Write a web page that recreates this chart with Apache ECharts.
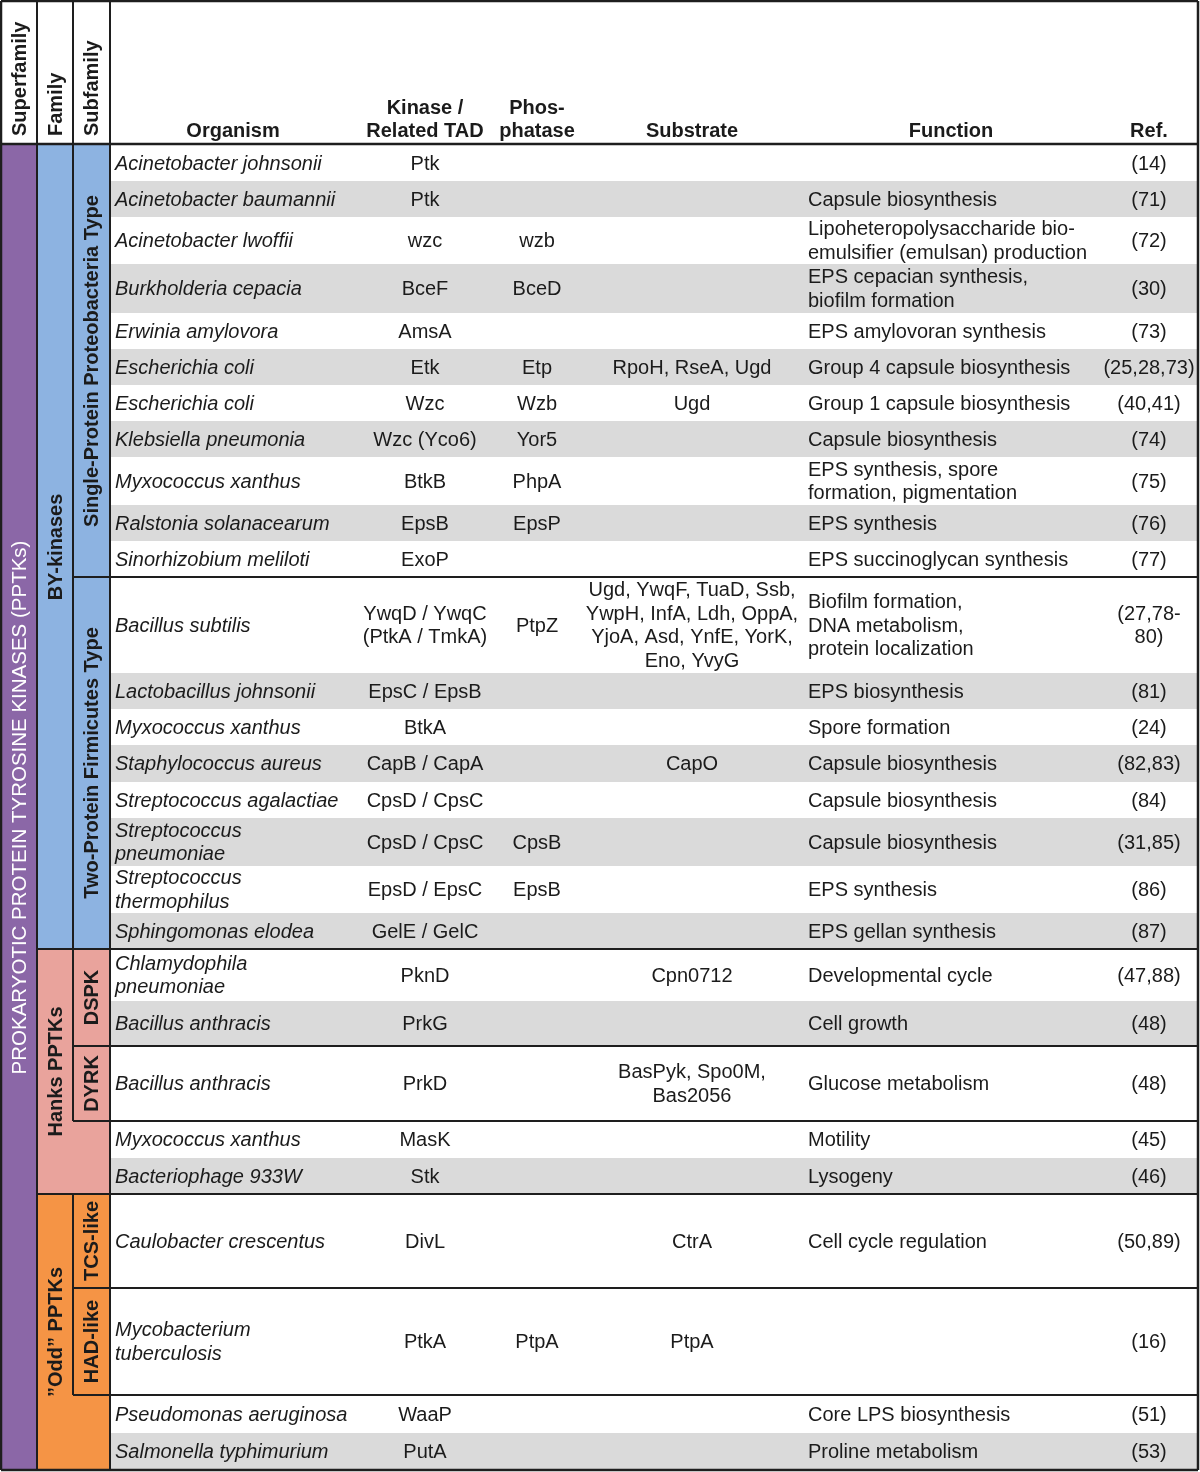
<!DOCTYPE html>
<html>
<head>
<meta charset="utf-8">
<script src="https://cdn.jsdelivr.net/npm/echarts@6/dist/echarts.min.js"></script>
<style>
html,body{margin:0;padding:0;background:#fff;}
#chart{width:1200px;height:1472px;}
</style>
</head>
<body>
<div id="chart"></div>
<script>
// ---------------- DATA ----------------
const superfamilyLabel = 'PROKARYOTIC PROTEIN TYROSINE KINASES (PPTKs)';
const leftHeaders = ['Superfamily', 'Family', 'Subfamily'];
const columnHeaders = ['Organism', 'Kinase /\nRelated TAD', 'Phos-\nphatase', 'Substrate', 'Function', 'Ref.'];

const organisms = [
  'Acinetobacter johnsonii', 'Acinetobacter baumannii', 'Acinetobacter lwoffii', 'Burkholderia cepacia',
  'Erwinia amylovora', 'Escherichia coli', 'Escherichia coli', 'Klebsiella pneumonia',
  'Myxococcus xanthus', 'Ralstonia solanacearum', 'Sinorhizobium meliloti',
  'Bacillus subtilis', 'Lactobacillus johnsonii', 'Myxococcus xanthus', 'Staphylococcus aureus',
  'Streptococcus agalactiae', 'Streptococcus\npneumoniae', 'Streptococcus\nthermophilus', 'Sphingomonas elodea',
  'Chlamydophila\npneumoniae', 'Bacillus anthracis', 'Bacillus anthracis', 'Myxococcus xanthus',
  'Bacteriophage 933W', 'Caulobacter crescentus', 'Mycobacterium\ntuberculosis',
  'Pseudomonas aeruginosa', 'Salmonella typhimurium'
];
const kinases = [
  'Ptk', 'Ptk', 'wzc', 'BceF', 'AmsA', 'Etk', 'Wzc', 'Wzc (Yco6)', 'BtkB', 'EpsB', 'ExoP',
  'YwqD / YwqC\n(PtkA / TmkA)', 'EpsC / EpsB', 'BtkA', 'CapB / CapA', 'CpsD / CpsC', 'CpsD / CpsC',
  'EpsD / EpsC', 'GelE / GelC', 'PknD', 'PrkG', 'PrkD', 'MasK', 'Stk', 'DivL', 'PtkA', 'WaaP', 'PutA'
];
const phosphatases = [
  '', '', 'wzb', 'BceD', '', 'Etp', 'Wzb', 'Yor5', 'PhpA', 'EpsP', '',
  'PtpZ', '', '', '', '', 'CpsB', 'EpsB', '', '', '', '', '', '', '', 'PtpA', '', ''
];
const substrates = [
  '', '', '', '', '', 'RpoH, RseA, Ugd', 'Ugd', '', '', '', '',
  'Ugd, YwqF, TuaD, Ssb,\nYwpH, InfA, Ldh, OppA,\nYjoA, Asd, YnfE, YorK,\nEno, YvyG',
  '', '', 'CapO', '', '', '', '', 'Cpn0712', '', 'BasPyk, Spo0M,\nBas2056', '', '', 'CtrA', 'PtpA', '', ''
];
const functions = [
  '', 'Capsule biosynthesis', 'Lipoheteropolysaccharide bio-\nemulsifier (emulsan) production',
  'EPS cepacian synthesis,\nbiofilm formation', 'EPS amylovoran synthesis', 'Group 4 capsule biosynthesis',
  'Group 1 capsule biosynthesis', 'Capsule biosynthesis', 'EPS synthesis, spore\nformation, pigmentation',
  'EPS synthesis', 'EPS succinoglycan synthesis',
  'Biofilm formation,\nDNA metabolism,\nprotein localization', 'EPS biosynthesis', 'Spore formation',
  'Capsule biosynthesis', 'Capsule biosynthesis', 'Capsule biosynthesis', 'EPS synthesis', 'EPS gellan synthesis',
  'Developmental cycle', 'Cell growth', 'Glucose metabolism', 'Motility', 'Lysogeny',
  'Cell cycle regulation', '', 'Core LPS biosynthesis', 'Proline metabolism'
];
const refs = [
  '(14)', '(71)', '(72)', '(30)', '(73)', '(25,28,73)', '(40,41)', '(74)', '(75)', '(76)', '(77)',
  '(27,78-\n80)', '(81)', '(24)', '(82,83)', '(84)', '(31,85)', '(86)', '(87)',
  '(47,88)', '(48)', '(48)', '(45)', '(46)', '(50,89)', '(16)', '(51)', '(53)'
];

const families = ['BY-kinases', 'Hanks PPTKs', '\u201DOdd\u201D PPTKs'];
const familyFirstRow = [0, 19, 24];
const familyLastRow = [18, 23, 27];

const subfamilies = ['Single-Protein Proteobacteria Type', 'Two-Protein Firmicutes Type', 'DSPK', 'DYRK', 'TCS-like', 'HAD-like'];
const subfamilyFirstRow = [0, 11, 19, 21, 24, 25];
const subfamilyLastRow = [10, 18, 20, 21, 24, 25];
const subfamilyOf = [0, 0, 1, 1, 2, 2];

// ---------------- LAYOUT / STYLE ----------------
const rowHeights = [36,36,47,49,36,36,36,36,48,36,36, 96,36,36,37,36,48,47,36, 52,45,75,37,36, 94,107,38,37];
const TOP = 1, LEFT = 1, RIGHT = 1198;
const HEADER_BOTTOM = 144;
const COL = { supL: 1, famL: 37, subL: 73, bodyL: 110 };
const TXT = { org: 115, kin: 425, pho: 537, subs: 692, fn: 808, ref: 1149 };
const HDR = [233, 425, 537, 692, 951, 1149];
const TEXT_DY = 1;
const rowTop = [HEADER_BOTTOM + 1];
rowHeights.forEach(h => rowTop.push(rowTop[rowTop.length - 1] + h));
const BOTTOM = rowTop[rowTop.length - 1];

const FONT_FAMILY = '"Liberation Sans", Arial, Helvetica, sans-serif';
const F_BODY = '20px ' + FONT_FAMILY;
const F_ITALIC = 'italic 20px ' + FONT_FAMILY;
const F_BOLD = 'bold 20px ' + FONT_FAMILY;
const INK = '#1b1b1b';
const LINE = '#1e1e1e';
const SHADE = '#DADADA';
const PURPLE = '#8B67A7';
const FAMILY_COLORS = ['#8DB3E1', '#E9A39C', '#F59445'];
const LH = 23.6;

// group starts for zebra shading (restarts after each structural boundary)
const groupStarts = new Set([0]);
familyFirstRow.forEach(r => groupStarts.add(r));
subfamilyFirstRow.forEach(r => groupStarts.add(r));
subfamilyLastRow.forEach(r => groupStarts.add(r + 1));
function shadeOf(i) {
  let s = i;
  while (!groupStarts.has(s)) s--;
  return (i - s) % 2 === 1;
}

function text(api, x, y, s, font, align, opts) {
  const p = api.coord([x, y]);
  return Object.assign({
    type: 'text', x: p[0], y: p[1],
    style: { text: s, font: font, fill: INK, align: align, verticalAlign: 'middle', lineHeight: LH }
  }, opts || {});
}
function rect(api, x0, y0, x1, y1, fill) {
  const a = api.coord([x0, y0]), b = api.coord([x1, y1]);
  return { type: 'rect', shape: { x: a[0], y: a[1], width: b[0] - a[0], height: b[1] - a[1] }, style: { fill: fill } };
}
function line(api, x0, y0, x1, y1, w) {
  const a = api.coord([x0, y0]), b = api.coord([x1, y1]);
  return { type: 'line', shape: { x1: a[0], y1: a[1], x2: b[0], y2: b[1] }, style: { stroke: LINE, lineWidth: w || 2 } };
}

// ---------------- RENDERERS ----------------
function renderRow(params, api) {
  const i = api.value(0);
  const y0 = rowTop[i], y1 = rowTop[i + 1], ym = (y0 + y1) / 2 + TEXT_DY;
  return {
    type: 'group',
    children: [
      rect(api, COL.bodyL, y0, RIGHT, y1, shadeOf(i) ? SHADE : '#ffffff'),
      text(api, TXT.org, ym, organisms[i], F_ITALIC, 'left'),
      text(api, TXT.kin, ym, kinases[i], F_BODY, 'center'),
      text(api, TXT.pho, ym, phosphatases[i], F_BODY, 'center'),
      text(api, TXT.subs, ym, substrates[i], F_BODY, 'center'),
      text(api, TXT.fn, ym, functions[i], F_BODY, 'left'),
      text(api, TXT.ref, ym, refs[i], F_BODY, 'center')
    ]
  };
}

function renderFamily(params, api) {
  const f = api.value(0);
  const y0 = rowTop[familyFirstRow[f]], y1 = rowTop[familyLastRow[f] + 1];
  return {
    type: 'group',
    children: [
      rect(api, COL.famL, y0, COL.bodyL, y1, FAMILY_COLORS[f]),
      text(api, (COL.famL + COL.subL) / 2 + 1, (y0 + y1) / 2, families[f], F_BOLD, 'center', { rotation: Math.PI / 2 })
    ]
  };
}

function renderSubfamily(params, api) {
  const s = api.value(0);
  const y0 = rowTop[subfamilyFirstRow[s]], y1 = rowTop[subfamilyLastRow[s] + 1];
  return {
    type: 'group',
    children: [
      rect(api, COL.subL, y0, COL.bodyL, y1, FAMILY_COLORS[subfamilyOf[s]]),
      text(api, (COL.subL + COL.bodyL) / 2 + 1, (y0 + y1) / 2, subfamilies[s], F_BOLD, 'center', { rotation: Math.PI / 2 })
    ]
  };
}

function renderSuperfamily(params, api) {
  const y0 = rowTop[0], y1 = BOTTOM;
  const t = text(api, (COL.supL + COL.famL) / 2 + 1, (y0 + y1) / 2, superfamilyLabel, '20.5px ' + FONT_FAMILY, 'center', { rotation: Math.PI / 2 });
  t.style.fill = '#ffffff';
  return { type: 'group', children: [rect(api, COL.supL, y0, COL.famL, y1, PURPLE), t] };
}

function renderHeader(params, api) {
  const children = [rect(api, LEFT, TOP, RIGHT, HEADER_BOTTOM, '#ffffff')];
  const lx = [(COL.supL + COL.famL) / 2 + 1, (COL.famL + COL.subL) / 2 + 1, (COL.subL + COL.bodyL) / 2 + 1];
  leftHeaders.forEach((h, k) => {
    children.push(text(api, lx[k], 136, h, F_BOLD, 'left', { rotation: Math.PI / 2 }));
  });
  columnHeaders.forEach((h, k) => {
    const t = text(api, HDR[k], 143, h, F_BOLD, 'center');
    t.style.verticalAlign = 'bottom';
    t.style.lineHeight = 23;
    children.push(t);
  });
  return { type: 'group', children: children };
}

function renderLines(params, api) {
  const ch = [];
  // outer frame
  ch.push(line(api, LEFT, TOP, RIGHT, TOP, 2.5));
  ch.push(line(api, LEFT, BOTTOM, RIGHT, BOTTOM, 2.5));
  ch.push(line(api, LEFT, TOP, LEFT, BOTTOM, 2.5));
  ch.push(line(api, RIGHT, TOP, RIGHT, BOTTOM, 2.5));
  // header
  ch.push(line(api, LEFT, HEADER_BOTTOM, RIGHT, HEADER_BOTTOM, 2.5));
  ch.push(line(api, COL.famL, TOP, COL.famL, BOTTOM));
  ch.push(line(api, COL.subL, TOP, COL.subL, HEADER_BOTTOM));
  ch.push(line(api, COL.bodyL, TOP, COL.bodyL, BOTTOM));
  // family boundaries
  familyFirstRow.forEach((r, f) => {
    if (r > 0) ch.push(line(api, COL.famL, rowTop[r], RIGHT, rowTop[r]));
    let last = -1;
    subfamilyLastRow.forEach((e, s) => { if (subfamilyOf[s] === f) last = Math.max(last, e); });
    if (last >= 0) ch.push(line(api, COL.subL, rowTop[r], COL.subL, rowTop[last + 1]));
  });
  // subfamily boundaries
  subfamilyFirstRow.forEach((r, s) => {
    if (!familyFirstRow.includes(r)) ch.push(line(api, COL.subL, rowTop[r], RIGHT, rowTop[r]));
    const e = subfamilyLastRow[s] + 1;
    if (!familyFirstRow.includes(e) && e < rowHeights.length && !subfamilyFirstRow.includes(e))
      ch.push(line(api, COL.subL, rowTop[e], RIGHT, rowTop[e]));
  });
  return { type: 'group', children: ch };
}

// ---------------- CHART ----------------
const chart = echarts.init(document.getElementById('chart'), null, { renderer: 'canvas' });
const axisCommon = { show: false, splitLine: { show: false }, axisLine: { show: false }, axisTick: { show: false }, axisLabel: { show: false } };
chart.setOption({
  animation: false,
  backgroundColor: '#ffffff',
  grid: { left: 0, right: 0, top: 0, bottom: 0 },
  xAxis: Object.assign({ type: 'value', min: 0, max: 1200 }, axisCommon),
  yAxis: Object.assign({ type: 'value', min: 0, max: 1472, inverse: true }, axisCommon),
  series: [
    { type: 'custom', z: 1, clip: false, renderItem: renderRow, data: organisms.map((_, i) => [i, 0]) },
    { type: 'custom', z: 2, clip: false, renderItem: renderFamily, data: families.map((_, i) => [i, 0]) },
    { type: 'custom', z: 3, clip: false, renderItem: renderSubfamily, data: subfamilies.map((_, i) => [i, 0]) },
    { type: 'custom', z: 3, clip: false, renderItem: renderSuperfamily, data: [[0, 0]] },
    { type: 'custom', z: 3, clip: false, renderItem: renderHeader, data: [[0, 0]] },
    { type: 'custom', z: 10, clip: false, renderItem: renderLines, data: [[0, 0]] }
  ]
});
</script>
</body>
</html>
